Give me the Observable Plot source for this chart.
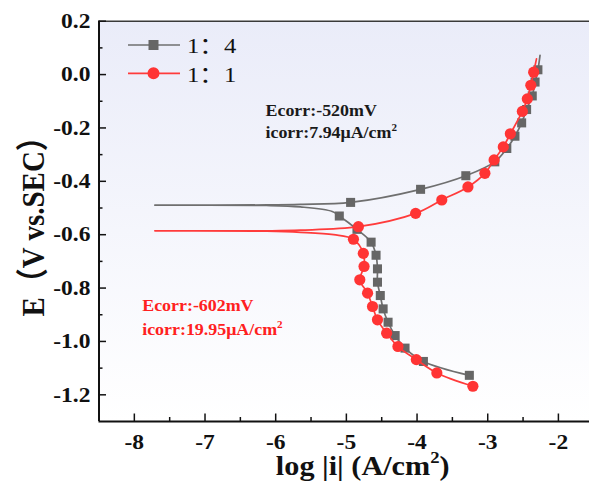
<!DOCTYPE html>
<html><head><meta charset="utf-8">
<script src="https://cdn.jsdelivr.net/npm/d3@7"></script>
<script src="https://cdn.jsdelivr.net/npm/@observablehq/plot@0.6"></script>
<style>
html,body{margin:0;padding:0;background:#fff;}
#chart{width:589px;height:481px;}
</style></head><body><div id="chart"></div>
<script>
// ---------- data ----------
const seriesNames = ["1：4", "1：1"];

// 1：4 (gray squares) — traced from the cathodic end, through the Ecorr spike, to the anodic end
const grayLogI = [-3.26, -3.91, -4.17, -4.31, -4.41, -4.48, -4.52, -4.56, -4.56, -4.58, -4.65, -4.85, -5.10,
                  -5.20, -5.65, -6.13, -7.71, -6.13, -5.65,
                  -4.94, -3.95, -3.31, -2.90, -2.73, -2.615, -2.52, -2.45, -2.37, -2.33, -2.29, -2.26];
const grayE    = [-1.127, -1.075, -1.025, -0.978, -0.928, -0.878, -0.828, -0.778, -0.728, -0.677, -0.628, -0.580, -0.530,
                  -0.513, -0.496, -0.4905, -0.4895, -0.4885, -0.4865,
                  -0.479, -0.430, -0.379, -0.327, -0.277, -0.231, -0.181, -0.131, -0.080, -0.028, 0.018, 0.072];
const grayMarked = [1,1,1,1,1,1,1,1,1,1,1,1,1,
                    0,0,0,0,0,0,
                    1,1,1,1,1,1,1,1,1,1,1,0];

// 1：1 (red circles)
const redLogI = [-3.21, -3.72, -4.01, -4.27, -4.43, -4.56, -4.63, -4.70, -4.81, -4.75, -4.76, -4.90,
                 -5.18, -5.65, -6.13, -7.71, -6.13, -5.65,
                 -4.83, -4.02, -3.65, -3.28, -3.04, -2.91, -2.78, -2.68, -2.51, -2.44, -2.39, -2.35, -2.31];
const redE    = [-1.168, -1.118, -1.068, -1.019, -0.969, -0.919, -0.869, -0.819, -0.769, -0.719, -0.670, -0.617,
                 -0.600, -0.591, -0.587, -0.586, -0.5855, -0.583,
                 -0.570, -0.520, -0.470, -0.421, -0.370, -0.320, -0.271, -0.222, -0.138, -0.091, -0.040, 0.009, 0.059];
const redMarked = [1,1,1,1,1,1,1,1,1,1,1,1,
                   0,0,0,0,0,0,
                   1,1,1,1,1,1,1,1,1,1,1,1,0];

const xMajorTicks = [-8, -7, -6, -5, -4, -3, -2];
const xMinorTicks = [-7.5, -6.5, -5.5, -4.5, -3.5, -2.5];
const yMajorTicks = [0.2, 0.0, -0.2, -0.4, -0.6, -0.8, -1.0, -1.2];
const yMinorTicks = [0.1, -0.1, -0.3, -0.5, -0.7, -0.9, -1.1];
const xDomain = [-8.5, -1.56];
const yDomain = [-1.3, 0.2];

const xTitle = "log |i| (A/cm²)";
const yTitle = "E（V vs.SEC）";
const blackNotes = ["Ecorr:-520mV", "icorr:7.94μA/cm²"];
const redNotes = ["Ecorr:-602mV", "icorr:19.95μA/cm²"];

// ---------- build ----------
const rows = (name, xs, ys, ms) => xs.map((x, i) => ({series: name, logi: x, E: ys[i], marked: ms[i] === 1}));
const gray = rows(seriesNames[0], grayLogI, grayE, grayMarked);
const red = rows(seriesNames[1], redLogI, redE, redMarked);

const GRAY_LINE = "#6f6f6f", GRAY_FILL = "#666666", RED_LINE = "#ff3b3b", RED_FILL = "#ff3434";
const W = 589, H = 481, mL = 98.5, mT = 20.7, mB = 60, mR = 0;
const fw = W - mL - mR, fh = H - mT - mB;
const FONT = "'Liberation Serif','Times New Roman','Noto Sans CJK SC',serif";

const svg = Plot.plot({
  width: W, height: H,
  marginLeft: mL, marginRight: mR, marginTop: mT, marginBottom: mB,
  x: {domain: xDomain},
  y: {domain: yDomain},
  style: {fontFamily: FONT, background: "white", color: "#111", overflow: "visible"},
  marks: [
    Plot.frame({fill: "#eef0fb", stroke: "none"}),
    Plot.line(gray, {x: "logi", y: "E", stroke: GRAY_LINE, strokeWidth: 1.7, curve: "catmull-rom"}),
    Plot.dot(gray.filter(d => d.marked), {x: "logi", y: "E", symbol: "square", r: 5.1, fill: GRAY_FILL, stroke: "none"}),
    Plot.line(red, {x: "logi", y: "E", stroke: RED_LINE, strokeWidth: 1.7, curve: "catmull-rom"}),
    Plot.dot(red.filter(d => d.marked), {x: "logi", y: "E", symbol: "circle", r: 5.6, fill: RED_FILL, stroke: "none"}),
    Plot.ruleY([yDomain[1]], {stroke: "#3a3a3a", strokeWidth: 1.6}),
    Plot.ruleX([xDomain[0]], {stroke: "#111", strokeWidth: 2}),
    Plot.ruleY([yDomain[0]], {stroke: "#111", strokeWidth: 2}),
    Plot.tickX(xMajorTicks, {x: d => d, stroke: "#111", strokeWidth: 1.5, insetTop: fh - 7.5}),
    Plot.tickX(xMinorTicks, {x: d => d, stroke: "#111", strokeWidth: 1.5, insetTop: fh - 4}),
    Plot.tickY(yMajorTicks, {y: d => d, stroke: "#111", strokeWidth: 1.5, insetRight: fw - 7.5}),
    Plot.tickY(yMinorTicks, {y: d => d, stroke: "#111", strokeWidth: 1.5, insetRight: fw - 4}),
    Plot.axisX({ticks: xMajorTicks, tickSize: 0, tickPadding: 13, tickFormat: d => String(d),
                fontSize: 21, fontWeight: "bold", label: null, fill: "#111"}),
    Plot.axisY({ticks: yMajorTicks, tickSize: 0, tickPadding: 8.5, tickFormat: d => d.toFixed(1),
                fontSize: 21, fontWeight: "bold", label: null, fill: "#111"}),
    Plot.text([xTitle], {text: d => d, frameAnchor: "bottom", lineAnchor: "bottom", textAnchor: "middle",
                         dx: 18.5, dy: 53, fontSize: 27, fontWeight: "bold", fill: "#111"}),
    Plot.text([yTitle], {text: d => d, frameAnchor: "left", rotate: -90, lineAnchor: "bottom", textAnchor: "middle",
                         dx: -55.5, dy: -2, fontSize: 29, fontWeight: "bold", fill: "#111"}),
    Plot.text([blackNotes[0]], {text: d => d, frameAnchor: "top-left", textAnchor: "start", lineAnchor: "bottom",
                                dx: 166.5, dy: 94.3, fontSize: 16, fontWeight: "bold", fill: "#1a1a1a"}),
    Plot.text([blackNotes[1]], {text: d => d, frameAnchor: "top-left", textAnchor: "start", lineAnchor: "bottom",
                                dx: 166.5, dy: 116.3, fontSize: 16, fontWeight: "bold", fill: "#1a1a1a"}),
    Plot.text([redNotes[0]], {text: d => d, frameAnchor: "top-left", textAnchor: "start", lineAnchor: "bottom",
                              dx: 43.2, dy: 290, fontSize: 16, fontWeight: "bold", fill: "#ff2020"}),
    Plot.text([redNotes[1]], {text: d => d, frameAnchor: "top-left", textAnchor: "start", lineAnchor: "bottom",
                              dx: 43.2, dy: 313.3, fontSize: 16, fontWeight: "bold", fill: "#ff2020"})
  ]
});

document.getElementById("chart").appendChild(svg);

// gradient background for the plotting area
const s = d3.select(svg);
const defs = s.insert("defs", ":first-child");
const grad = defs.append("linearGradient").attr("id", "bgGrad").attr("x1", 0).attr("y1", 0).attr("x2", 0).attr("y2", 1);
grad.append("stop").attr("offset", "0%").attr("stop-color", "#eaecf9");
grad.append("stop").attr("offset", "100%").attr("stop-color", "#ffffff");
s.selectAll('[aria-label="frame"]').each(function () {
  d3.select(this).attr("fill", "url(#bgGrad)");
  d3.select(this).selectAll("rect").attr("fill", "url(#bgGrad)");
});

// legend (inside the plot, top-left)
const lg = s.append("g").attr("font-family", FONT).attr("text-anchor", "start");
const legendItems = [
  {name: seriesNames[0], stroke: GRAY_LINE, fill: GRAY_FILL, symbol: d3.symbolSquare, size: 100, y: 45},
  {name: seriesNames[1], stroke: RED_LINE, fill: RED_FILL, symbol: d3.symbolCircle, size: 113, y: 73.3}
];
legendItems.forEach(it => {
  lg.append("line").attr("x1", 128).attr("x2", 180).attr("y1", it.y).attr("y2", it.y)
    .attr("stroke", it.stroke).attr("stroke-width", 1.7);
  lg.append("path").attr("d", d3.symbol(it.symbol, it.size)()).attr("transform", `translate(153.5,${it.y})`)
    .attr("fill", it.fill);
  lg.append("text").text(it.name).attr("transform", `translate(187,${it.y + 8.4})`)
    .attr("text-anchor", "start").attr("font-weight", "normal")
    .attr("font-size", 22).attr("fill", "#111");
});

// superscript "2"
const NS = "http://www.w3.org/2000/svg";
s.selectAll("text").each(function () {
  const t = this.textContent;
  if (!t.includes("²")) return;
  const fs = parseFloat(getComputedStyle(this).fontSize) || 16;
  const [a, b] = t.split("²");
  this.textContent = "";
  const t1 = document.createElementNS(NS, "tspan"); t1.textContent = a;
  const t2 = document.createElementNS(NS, "tspan"); t2.textContent = "2";
  t2.setAttribute("font-size", (fs * 0.62).toFixed(1)); t2.setAttribute("dy", (-fs * 0.42).toFixed(1));
  this.append(t1, t2);
  if (b) {
    const t3 = document.createElementNS(NS, "tspan"); t3.textContent = b;
    t3.setAttribute("dy", (fs * 0.42).toFixed(1));
    this.append(t3);
  }
});

// the reference's lettering is slightly wider than Times: stretch horizontally
const K = 1.12;
s.selectAll("text").each(function () {
  const tr = this.getAttribute("transform") || "";
  if (/rotate\(-90\)/.test(tr)) this.setAttribute("transform", tr + ` scale(1,${K})`);
  else this.setAttribute("transform", tr + ` scale(${K},1)`);
});
</script></body></html>
